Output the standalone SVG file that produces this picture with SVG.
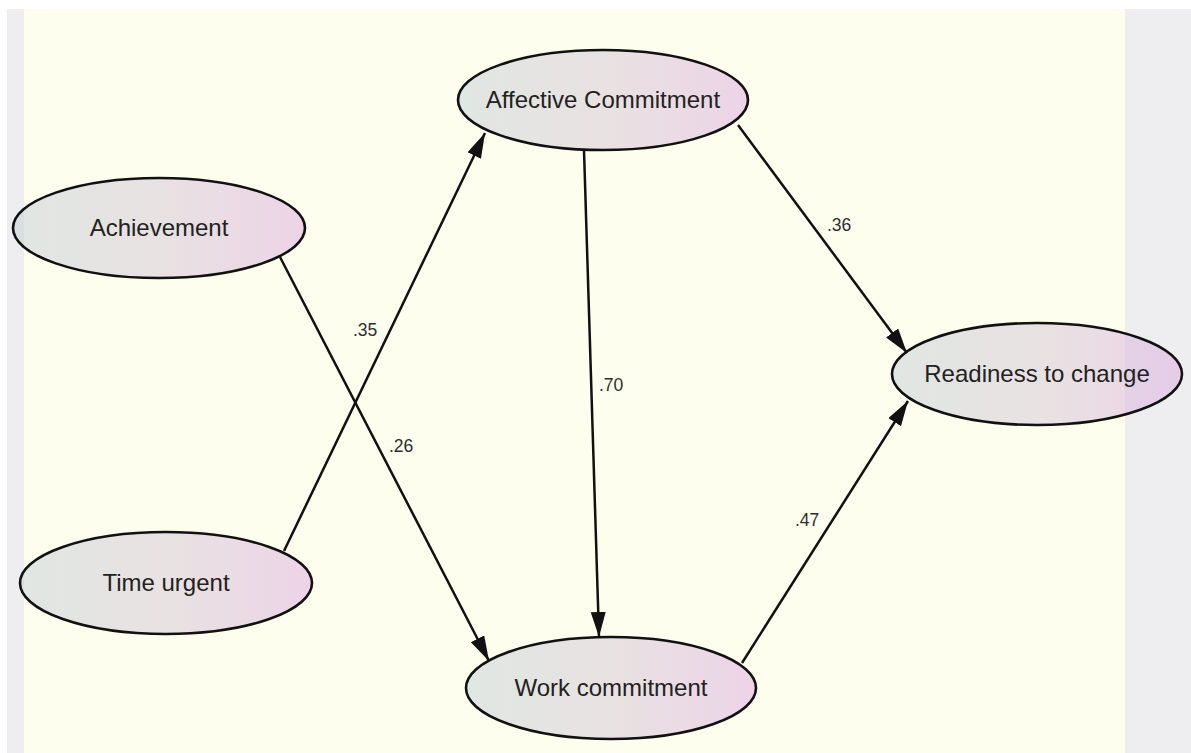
<svg xmlns="http://www.w3.org/2000/svg" width="1191" height="753" viewBox="0 0 1191 753">
<defs>
<linearGradient id="nodeFill" x1="0" y1="0" x2="1" y2="0">
<stop offset="0" stop-color="#c3cfd4"/>
<stop offset="0.5" stop-color="#d4c6d6"/>
<stop offset="1" stop-color="#dcaadf"/>
</linearGradient>
<marker id="arrow" markerUnits="userSpaceOnUse" markerWidth="28" markerHeight="18" refX="25" refY="7.5" orient="auto">
<path d="M0,0 L25,7.5 L0,15 Z" fill="#111"/>
</marker>
<style>
.node ellipse { fill: url(#nodeFill); fill-opacity: 0.5; stroke: #111; stroke-width: 2.6; }
.node text { font-family: "Liberation Sans", Arial, sans-serif; font-size: 24px; fill: #222; text-anchor: middle; }
.edges line { stroke: #111; stroke-width: 2.5; marker-end: url(#arrow); }
.edges text { font-family: "Liberation Sans", Arial, sans-serif; font-size: 17.5px; fill: #2e2e2e; }
</style>
</defs>
<rect x="0" y="0" width="1191" height="753" fill="#ffffff"/>
<rect x="7" y="9" width="1184" height="744" fill="#eeeef0"/>
<rect x="24" y="9" width="1101" height="744" fill="#fdfeee"/>

<g id="connectors" class="edges">
<line x1="280" y1="257" x2="489" y2="661"/>
<line x1="284" y1="551" x2="485" y2="133"/>
<line x1="584" y1="150" x2="599" y2="637"/>
<line x1="738" y1="125" x2="907" y2="353"/>
<line x1="742" y1="663" x2="908" y2="401"/>
<text x="353" y="336">.35</text>
<text x="389" y="452">.26</text>
<text x="599" y="391">.70</text>
<text x="827" y="231">.36</text>
<text x="795" y="526">.47</text>
</g>

<g id="achievement" class="node">
<ellipse cx="159" cy="228" rx="146" ry="50"/>
<text x="159" y="236">Achievement</text>
</g>
<g id="time-urgent" class="node">
<ellipse cx="166" cy="583" rx="146" ry="51"/>
<text x="166" y="591">Time urgent</text>
</g>
<g id="affective-commitment" class="node">
<ellipse cx="603" cy="100" rx="145" ry="50"/>
<text x="603" y="108">Affective Commitment</text>
</g>
<g id="work-commitment" class="node">
<ellipse cx="611" cy="688" rx="145" ry="51"/>
<text x="611" y="696">Work commitment</text>
</g>
<g id="readiness-to-change" class="node">
<ellipse cx="1037" cy="374" rx="145" ry="51"/>
<text x="1037" y="382">Readiness to change</text>
</g>
</svg>
